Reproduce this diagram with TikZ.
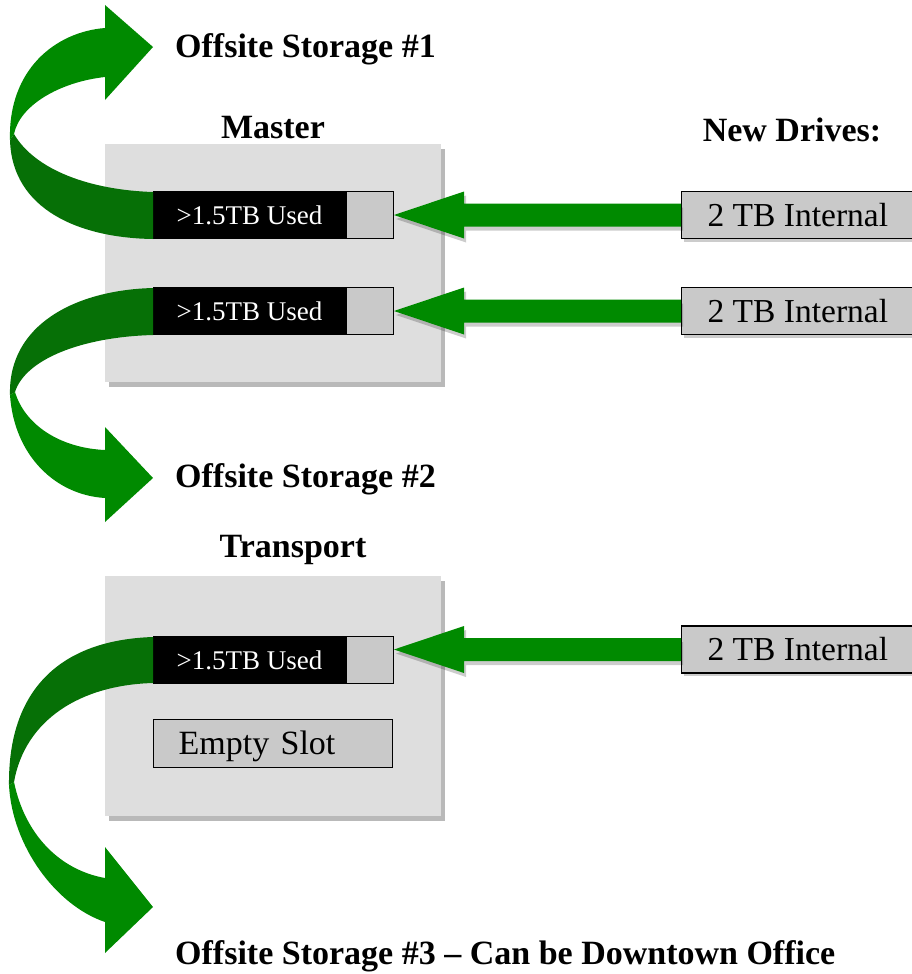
\documentclass[tikz,border=0pt]{standalone}
\usepackage{fontspec}
\setmainfont{Liberation Serif}
\usetikzlibrary{positioning,calc,shadows}
\definecolor{arrowgreen}{RGB}{0,138,0}
\definecolor{twistgreen}{RGB}{6,112,6}
\definecolor{chassisgray}{RGB}{222,222,222}
\definecolor{slotgray}{RGB}{201,201,201}
\tikzset{
  heading/.style={font=\fontsize{34}{36}\selectfont\bfseries, inner sep=0pt},
  chassis/.style={fill=chassisgray, minimum width=336pt, minimum height=238pt,
    inner sep=0pt, anchor=north west,
    drop shadow={shadow xshift=4pt, shadow yshift=-5pt, fill=black!50, opacity=.55}},
  used/.style={fill=black, draw=black, line width=1pt, text=white,
    font=\fontsize{27}{29}\selectfont, minimum width=192pt, minimum height=47pt,
    inner sep=0pt, anchor=north west},
  tray/.style={fill=slotgray, draw=black, line width=1pt, minimum size=47pt, inner sep=0pt},
  slot/.style={fill=slotgray, draw=black, line width=1.2pt, font=\fontsize{34}{36}\selectfont,
    text width=189pt, align=left, inner xsep=25pt, inner ysep=0pt,
    text height=22pt, text depth=0pt, minimum height=48pt, anchor=north west},
  newdrive/.style={fill=slotgray, draw=black, line width=1.2pt, font=\fontsize{33.5}{36}\selectfont,
    inner xsep=26pt, inner ysep=0pt, minimum height=47pt, anchor=west,
    drop shadow={shadow xshift=2pt, shadow yshift=-3pt, fill=black, opacity=.2}},
  feed/.style={fill=arrowgreen,
    drop shadow={shadow xshift=2pt, shadow yshift=-4pt, fill=black, opacity=.2},
    to path={let \p1=(\tikztostart), \p2=(\tikztotarget) in
      (\x1,\y1+11.5pt) -- (\x2+70pt,\y1+11.5pt) -- (\x2+70pt,\y1+23.5pt) -- (\x2,\y1)
      -- (\x2+70pt,\y1-23.5pt) -- (\x2+70pt,\y1-11.5pt) -- (\x1,\y1-11.5pt) -- cycle}}
}
\begin{document}
\begin{tikzpicture}[x=1pt,y=-1pt]
\useasboundingbox (0,0) rectangle (911,974);
\node[chassis] (master) at (105,144) {};
\node[chassis, minimum height=240pt] (transport) at (105,576) {};
\node[heading, anchor=base] (lmaster) at (273,138) {Master};
\node[heading, anchor=base] (ltransport) at (293,557) {Transport};
\node[heading, anchor=base] (lnew) at (792,141) {New Drives:};
\node[used] (m1) at (153,191) {>1.5TB Used};
\node[tray, right=0pt of m1] (m1s) {};
\node[used] (m2) at (153,287) {>1.5TB Used};
\node[tray, right=0pt of m2] (m2s) {};
\node[used] (t1) at (153,636) {>1.5TB Used};
\node[tray, right=0pt of t1] (t1s) {};
\node[slot] (slot) at (153,719) {Empty Slot};
\node[newdrive] (n1) at (681,215) {2 TB Internal};
\node[newdrive] (n2) at (681,311) {2 TB Internal};
\node[newdrive] (n3) at (681,649.5) {2 TB Internal};
\path[feed] (n1.west) to (m1s.east);
\path[feed] (n2.west) to (m2s.east);
\path[feed] (n3.west) to (t1s.east);
\fill[twistgreen] (153,239) .. controls (80,238) and (12,210) .. (10,140) -- (14,134)
  .. controls (35,170) and (90,190) .. (153,192) -- cycle;
\fill[arrowgreen] (10,140) .. controls (8,70) and (55,32) .. (105,28) -- (105,5) -- (153,47)
  -- (105,100) -- (105,77) .. controls (60,82) and (20,105) .. (14,134) -- cycle;
\fill[twistgreen] (153,288) .. controls (75,290) and (8,325) .. (10,395) -- (15,392)
  .. controls (25,360) and (80,337) .. (153,335) -- cycle;
\fill[arrowgreen] (10,395) .. controls (14,455) and (55,495) .. (105,498) -- (105,522) -- (153,478)
  -- (105,427) -- (105,450) .. controls (60,448) and (25,425) .. (15,392) -- cycle;
\fill[twistgreen] (153,637) .. controls (60,640) and (8,690) .. (9,785) -- (14,782)
  .. controls (25,720) and (80,685) .. (153,683) -- cycle;
\fill[arrowgreen] (9,785) .. controls (12,845) and (55,905) .. (105,922) -- (105,953) -- (153,907)
  -- (105,847) -- (105,878) .. controls (60,870) and (25,835) .. (14,782) -- cycle;
\node[heading, anchor=base west] (off1) at (175,57) {Offsite Storage \#1};
\node[heading, anchor=base west] (off2) at (175,487) {Offsite Storage \#2};
\node[heading, anchor=base west] (off3) at (175,964) {Offsite Storage \#3 -- Can be Downtown Office};
\end{tikzpicture}
\end{document}
